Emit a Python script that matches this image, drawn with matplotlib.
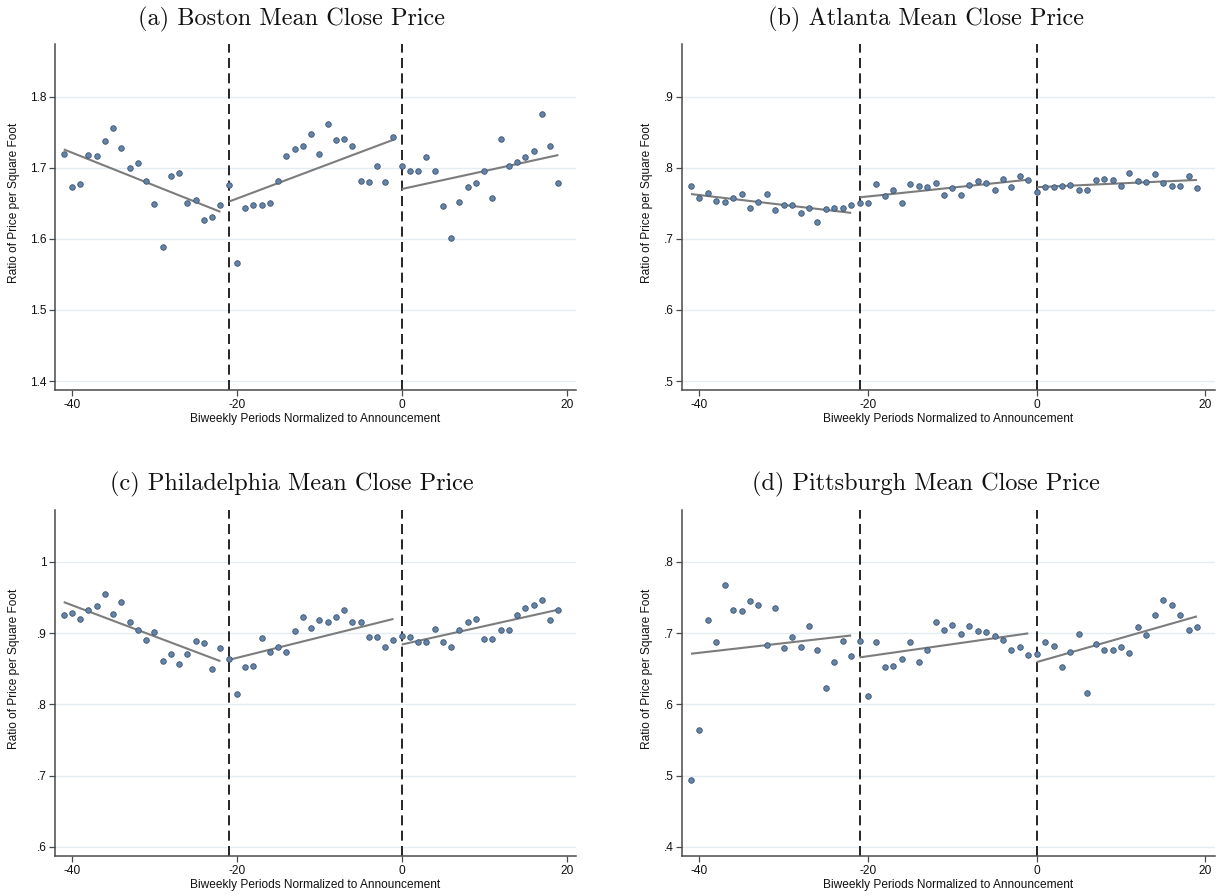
import matplotlib
matplotlib.use("Agg")

import numpy as np
import matplotlib.pyplot as plt

# biweekly periods relative to the announcement
periods = np.arange(-41, 20)

boston = [
    1.719, 1.673, 1.677, 1.718, 1.716, 1.737, 1.756, 1.728, 1.699, 1.707,
    1.682, 1.649, 1.588, 1.688, 1.692, 1.650, 1.654, 1.627, 1.631, 1.647,
    1.676, 1.566, 1.644, 1.648, 1.648, 1.650, 1.681, 1.717, 1.726, 1.730,
    1.747, 1.720, 1.762, 1.739, 1.740, 1.731, 1.681, 1.680, 1.703, 1.680,
    1.743, 1.703, 1.695, 1.695, 1.715, 1.695, 1.646, 1.601, 1.652, 1.673,
    1.678, 1.695, 1.657, 1.741, 1.703, 1.708, 1.715, 1.723, 1.775, 1.731,
    1.678,
]
atlanta = [
    .774, .758, .764, .753, .752, .757, .763, .744, .752, .763,
    .741, .747, .748, .737, .743, .723, .742, .743, .744, .747,
    .750, .750, .777, .760, .768, .750, .777, .774, .773, .779,
    .762, .771, .761, .776, .782, .778, .769, .784, .773, .789,
    .783, .766, .773, .773, .775, .776, .768, .768, .783, .784,
    .783, .774, .793, .781, .780, .791, .778, .774, .774, .789,
    .772,
]
philadelphia = [
    .926, .928, .920, .932, .938, .955, .927, .944, .915, .905,
    .891, .902, .861, .870, .856, .870, .889, .886, .849, .879,
    .863, .814, .852, .854, .893, .874, .880, .873, .903, .922,
    .907, .918, .916, .922, .933, .916, .916, .894, .894, .881,
    .890, .896, .895, .887, .887, .906, .887, .880, .905, .915,
    .920, .892, .892, .905, .904, .925, .936, .940, .946, .919,
    .933,
]
pittsburgh = [
    .494, .564, .718, .687, .767, .732, .731, .745, .740, .684,
    .735, .679, .695, .681, .710, .676, .623, .660, .689, .668,
    .689, .611, .687, .653, .654, .664, .687, .659, .676, .716,
    .705, .712, .699, .710, .703, .702, .696, .690, .677, .680,
    .669, .671, .688, .682, .653, .673, .699, .616, .685, .677,
    .677, .680, .672, .708, .697, .726, .747, .739, .726, .704,
    .709,
]

panel_titles = [
    "(a) Boston Mean Close Price",
    "(b) Atlanta Mean Close Price",
    "(c) Philadelphia Mean Close Price",
    "(d) Pittsburgh Mean Close Price",
]
panel_series = [boston, atlanta, philadelphia, pittsburgh]

y_ticks = [
    [1.4, 1.5, 1.6, 1.7, 1.8],
    [.5, .6, .7, .8, .9],
    [.6, .7, .8, .9, 1.0],
    [.4, .5, .6, .7, .8],
]
y_tick_labels = [
    ["1.4", "1.5", "1.6", "1.7", "1.8"],
    [".5", ".6", ".7", ".8", ".9"],
    [".6", ".7", ".8", ".9", "1"],
    [".4", ".5", ".6", ".7", ".8"],
]
y_limits = [(1.387, 1.874), (.487, .974), (.5865, 1.073), (.3865, .873)]
x_ticks = [-40, -20, 0, 20]

# pre-period / post-period windows, each gets its own linear fit
windows = [(-41, -22), (-21, -1), (0, 19)]
event_lines = [-21, 0]

# ── layout (pixels, converted to figure fractions below) ──
W, H = 1222, 896
ax_boxes = [
    (55, 576, 44, 390.3),
    (682, 1215, 44, 390.3),
    (55, 576, 510, 856.3),
    (682, 1215, 510, 856.3),
]
title_pos = [(292, 25), (926, 25), (292, 490), (926, 490)]
ylabel_x = [-0.067, -0.055, -0.067, -0.055]

plt.rcParams.update({
    "font.family": ["Liberation Sans", "DejaVu Sans"],
    "axes.unicode_minus": False,
})

MARKER_FACE = "#6483a6"
MARKER_EDGE = "#3b5673"
FIT_COLOR = "#7c7c7c"
GRID_COLOR = "#e4edf1"
AXIS_COLOR = "#4a4a4a"
TEXT_COLOR = "#111111"
LABEL_SIZE = 8.6

fig = plt.figure(figsize=(W / 100, H / 100), dpi=100, facecolor="white")

for i, values in enumerate(panel_series):
    x0, x1, top, bottom = ax_boxes[i]
    ax = fig.add_axes([x0 / W, 1 - bottom / H, (x1 - x0) / W, (bottom - top) / H])
    y = np.asarray(values)

    ax.set_xlim(-42.06, 21.14)
    ax.set_ylim(*y_limits[i])

    for yt in y_ticks[i]:
        ax.axhline(yt, color=GRID_COLOR, lw=1.0, zorder=0)

    for xv in event_lines:
        ax.axvline(xv, color="black", lw=1.2, ls=(0, (6, 3.2)), zorder=1)

    for lo, hi in windows:
        m = (periods >= lo) & (periods <= hi)
        slope, icpt = np.polyfit(periods[m], y[m], 1)
        xs = np.array([lo, hi])
        ax.plot(xs, icpt + slope * xs, color=FIT_COLOR, lw=1.5, zorder=2,
                solid_capstyle="butt")

    ax.scatter(periods, y, s=16, c=MARKER_FACE, edgecolors=MARKER_EDGE,
               linewidths=0.6, zorder=3)

    ax.set_xticks(x_ticks)
    ax.set_xticklabels([str(v) for v in x_ticks])
    ax.set_yticks(y_ticks[i])
    ax.set_yticklabels(y_tick_labels[i])
    ax.tick_params(axis="both", direction="out", length=4.2, width=0.9,
                   color=AXIS_COLOR, labelsize=LABEL_SIZE, pad=2.0,
                   labelcolor=TEXT_COLOR)

    for side in ("top", "right"):
        ax.spines[side].set_visible(False)
    for side in ("left", "bottom"):
        ax.spines[side].set_color(AXIS_COLOR)
        ax.spines[side].set_linewidth(1.1)

    ax.set_xlabel("Biweekly Periods Normalized to Announcement",
                  fontsize=LABEL_SIZE, color=TEXT_COLOR, labelpad=1.8)
    ax.set_ylabel("Ratio of Price per Square Foot", fontsize=LABEL_SIZE,
                  color=TEXT_COLOR)
    ax.yaxis.set_label_coords(ylabel_x[i], 0.54)

    tx, ty = title_pos[i]
    fig.text(tx / W, 1 - ty / H, panel_titles[i], ha="center", va="baseline",
             family="cmr10", fontsize=17.5, color=TEXT_COLOR)

fig.savefig("out.png", dpi=100, facecolor="white")
